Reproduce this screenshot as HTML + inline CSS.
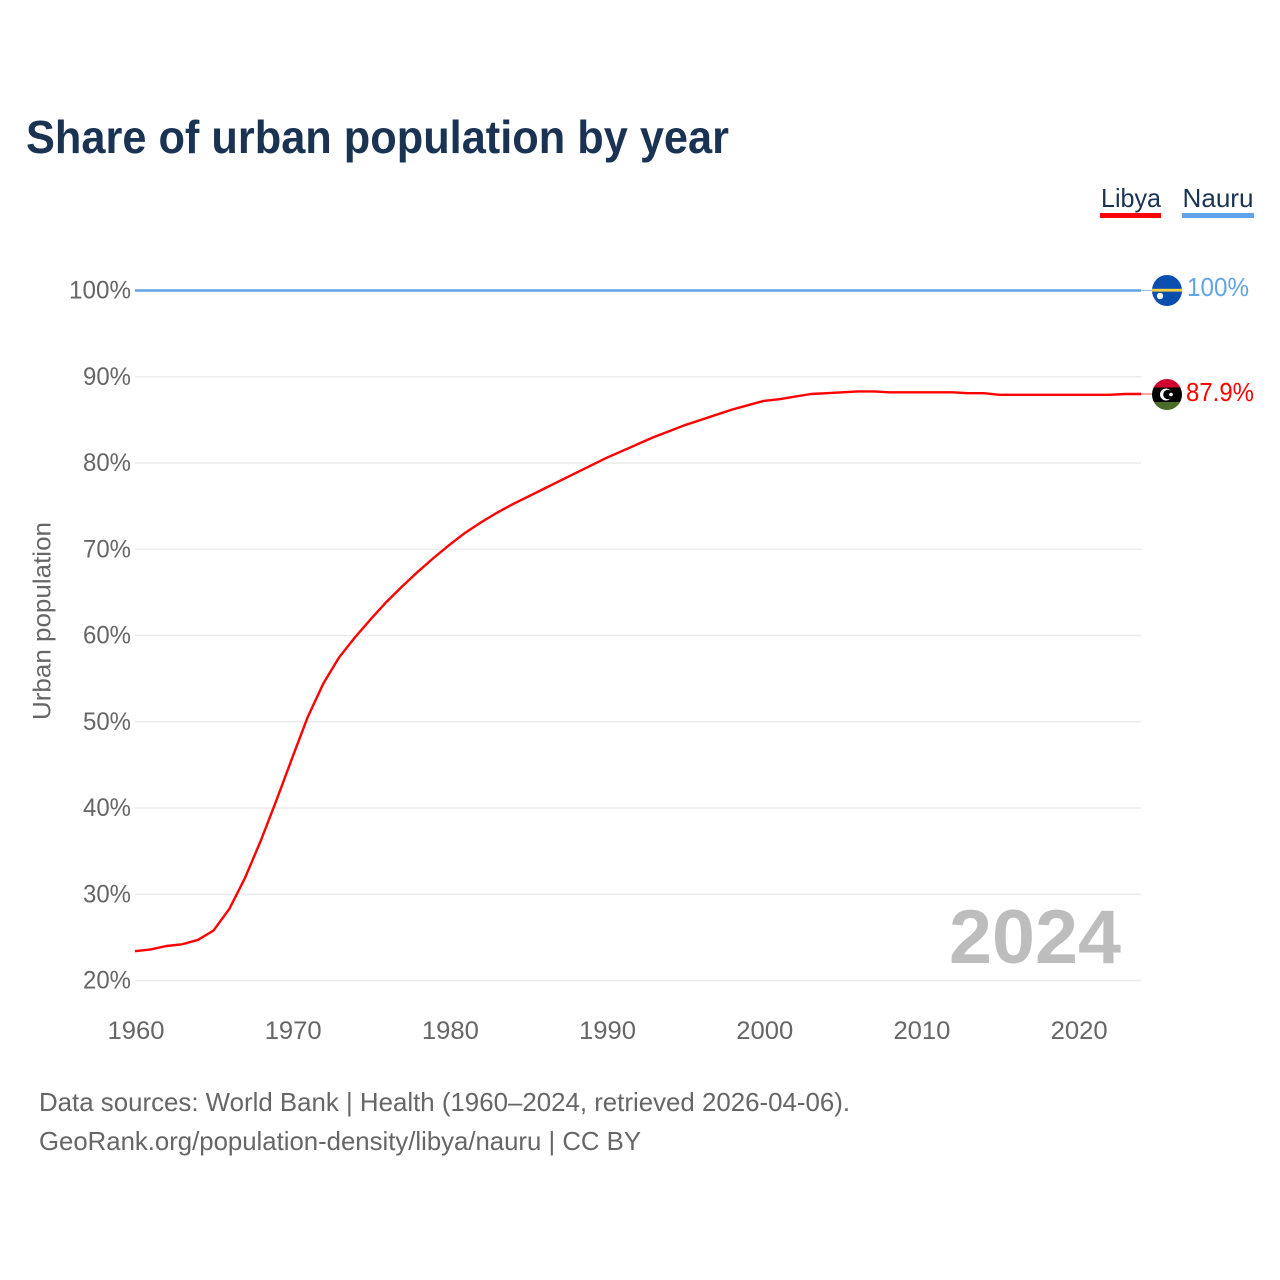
<!DOCTYPE html>
<html lang="en">
<head>
<meta charset="utf-8">
<title>Share of urban population by year</title>
<style>
html,body{margin:0;padding:0;background:#fff;width:1280px;height:1280px;overflow:hidden}
svg{display:block}
text{font-family:"Liberation Sans",sans-serif}
</style>
</head>
<body>
<svg id="chart" xmlns="http://www.w3.org/2000/svg" width="1280" height="1280" viewBox="0 0 1280 1280">
  <defs>
    <clipPath id="flag-clip-top"><ellipse cx="1167" cy="290.5" rx="15" ry="15.5"/></clipPath>
    <clipPath id="flag-clip-bottom"><ellipse cx="1167" cy="394.5" rx="15" ry="15.5"/></clipPath>
  </defs>
  <rect width="1280" height="1280" fill="#fff"/>
  <text x="26" y="153" font-size="46" font-weight="700" fill="#1a3353" textLength="703" lengthAdjust="spacingAndGlyphs">Share of urban population by year</text>

  <g>
    <text x="1101" y="207" font-size="26" fill="#1a3353" textLength="60" lengthAdjust="spacingAndGlyphs">Libya</text>
    <rect x="1100" y="213" width="61" height="5" fill="#ff0000"/>
  </g>
  <g>
    <text x="1182.5" y="207" font-size="26" fill="#1a3353" textLength="71" lengthAdjust="spacingAndGlyphs">Nauru</text>
    <rect x="1182" y="213" width="72" height="5" fill="#62a4ea"/>
  </g>

  <text transform="translate(50.5,720) rotate(-90)" font-size="25" fill="#666" textLength="198" lengthAdjust="spacingAndGlyphs">Urban population</text>

  <g id="grid"></g>
  <g id="yticks"></g>
  <g id="xticks"></g>

  <text id="year-label" x="1121" y="963" text-anchor="end" font-size="76" font-weight="700" fill="#bdbdbd" textLength="172" lengthAdjust="spacingAndGlyphs">2024</text>

  <g id="series"></g>

  <g id="flag-nauru">
    <g clip-path="url(#flag-clip-top)">
      <rect x="1152" y="275" width="30" height="31" fill="#0a4fb0"/>
      <rect x="1152" y="288.8" width="30" height="2.8" fill="#f6d03f"/>
      <circle cx="1160" cy="296" r="3.2" fill="#fff"/>
    </g>
  </g>
  <g id="flag-libya">
    <g clip-path="url(#flag-clip-bottom)">
      <rect x="1152" y="379" width="30" height="9" fill="#d2002f"/>
      <rect x="1152" y="387.5" width="30" height="15" fill="#000"/>
      <rect x="1152" y="402" width="30" height="8" fill="#4a6b2a"/>
      <circle cx="1166" cy="394.5" r="6" fill="#fff"/>
      <circle cx="1168" cy="394.5" r="4.8" fill="#000"/>
      <circle cx="1171" cy="394.5" r="1.8" fill="#fff"/>
    </g>
  </g>

  <text x="1187" y="296" font-size="26" fill="#62a4ea" textLength="62" lengthAdjust="spacingAndGlyphs" id="end-nauru"></text>
  <text x="1186" y="401" font-size="26" fill="#ff0000" textLength="68" lengthAdjust="spacingAndGlyphs" id="end-libya"></text>

  <text x="39" y="1111" font-size="26" fill="#666" textLength="811" lengthAdjust="spacingAndGlyphs">Data sources: World Bank | Health (1960–2024, retrieved 2026-04-06).</text>
  <text x="39" y="1150" font-size="26" fill="#666" textLength="602" lengthAdjust="spacingAndGlyphs">GeoRank.org/population-density/libya/nauru | CC BY</text>
</svg>
<script>
const startYear = 1960;
const libyaValues = [23.4,23.6,24.0,24.2,24.7,25.8,28.3,31.9,36.2,40.9,45.8,50.6,54.5,57.5,59.8,61.9,63.9,65.7,67.4,69.0,70.5,71.9,73.1,74.2,75.2,76.1,77.0,77.9,78.8,79.7,80.6,81.4,82.2,83.0,83.7,84.4,85.0,85.6,86.2,86.7,87.2,87.4,87.7,88.0,88.1,88.2,88.3,88.3,88.2,88.2,88.2,88.2,88.2,88.1,88.1,87.9,87.9,87.9,87.9,87.9,87.9,87.9,87.9,88.0,88.0];
const nauruValues = [100,100,100,100,100,100,100,100,100,100,100,100,100,100,100,100,100,100,100,100,100,100,100,100,100,100,100,100,100,100,100,100,100,100,100,100,100,100,100,100,100,100,100,100,100,100,100,100,100,100,100,100,100,100,100,100,100,100,100,100,100,100,100,100,100];
const yTicks = [20,30,40,50,60,70,80,90,100];
const xTicks = [1960,1970,1980,1990,2000,2010,2020];
const endLabels = ["87.9%","100%"];

const NS = 'http://www.w3.org/2000/svg';
function x(year){ return 135 + (year - 1960) * (1141 - 135) / 64; }
function y(v){ return 980.5 - (v - 20) * (980.5 - 290.5) / 80; }
function mk(tag, attrs, parent){
  const el = document.createElementNS(NS, tag);
  for (const k in attrs) el.setAttribute(k, attrs[k]);
  parent.appendChild(el);
  return el;
}
const grid = document.getElementById('grid');
const yt = document.getElementById('yticks');
const xt = document.getElementById('xticks');
const series = document.getElementById('series');

yTicks.forEach(function(t){
  const line = mk('line', {x1:135, x2:1141, y1:y(t), y2:y(t), stroke:'#ececec', 'stroke-width':1.5}, grid);
  
  
  const label = mk('text', {x:131, y:y(t)+8, 'text-anchor':'end', 'font-size':25, fill:'#666', textLength:(t===100?62:48), lengthAdjust:'spacingAndGlyphs'}, yt);
  
  
  label.textContent = t + '%';
});
xTicks.forEach(function(t){
  const label = mk('text', {x:x(t)+1, y:1039, 'text-anchor':'middle', 'font-size':25, fill:'#666', textLength:57, lengthAdjust:'spacingAndGlyphs'}, xt);
  
  
  label.textContent = t;
});

function drawSeries(values, color, name){
  const pts = values.map(function(v, i){ return x(startYear + i).toFixed(2) + ',' + y(v).toFixed(2); }).join(' ');
  const line = mk('polyline', {points:pts, fill:'none', stroke:color, 'stroke-width':2.4, 'stroke-linejoin':'round'}, series);
  
  
  const last = values[values.length - 1];
  const conn = mk('line', {x1:x(startYear + values.length - 1), x2:1152, y1:y(last), y2:y(last), stroke:color, 'stroke-width':1, opacity:0.7}, series);
  
  
}
drawSeries(nauruValues, '#62a4ea', 'line-nauru');
drawSeries(libyaValues, '#ff0000', 'line-libya');

document.getElementById('end-libya').textContent = endLabels[0];
document.getElementById('end-nauru').textContent = endLabels[1];
</script>
</body>
</html>
